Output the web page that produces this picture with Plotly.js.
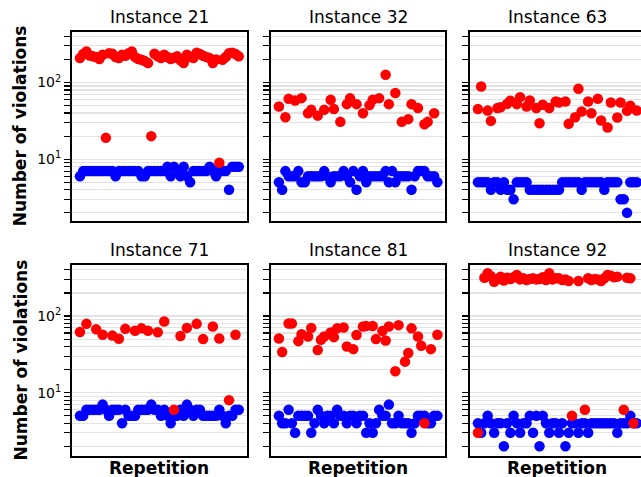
<!DOCTYPE html>
<html>
<head>
<meta charset="utf-8">
<script src="https://cdn.plot.ly/plotly-3.0.1.min.js"></script>
<style>
html,body{margin:0;padding:0;overflow:hidden;background:#fff;}
#chart{width:646px;height:477px;}
</style>
</head>
<body>
<div id="chart"></div>
<script>
// ---- data ----
const instances = ['Instance 21', 'Instance 32', 'Instance 63', 'Instance 71', 'Instance 81', 'Instance 92'];
const repetitions = [0,1,2,3,4,5,6,7,8,9,10,11,12,13,14,15,16,17,18,19,20,21,22,23,24,25,26,27,28,29,30,31,32,33,34,35,36,37,38,39,40,41,42,43,44,45,46,47,48,49];

const blue21 = [6,7,7,7,7,7,7,7,7,7,7,6,7,7,7,7,7,7,7,6,6,7,7,7,7,7,7,8,6,8,7,6,8,6,5,7,7,7,7,7,8,7,6,8,7,7,4,8,8,8];
const red21 = [208,235,254,225,219,215,202,230,19,240,237,215,208,230,223,240,254,215,202,198,190,179,20,237,220,208,230,215,202,210,219,195,179,230,215,208,245,235,223,215,208,179,200,9,198,215,240,245,235,219];

const blue32 = [5,4,7,6,6,6,7,5,5,6,6,6,6,6,7,6,5,6,6,6,7,6,5,7,4,6,7,5,6,6,6,6,6,7,5,7,5,6,6,6,6,4,6,7,7,7,6,6,6,5];
const red32 = [48.6,null,35.3,61.2,null,58.2,null,62.5,null,39.8,44,null,37,null,44,null,59.4,45,null,30.7,null,52.2,62.5,null,52.2,null,39.8,null,50.7,59.4,null,62.5,null,126,52.2,null,72.8,null,30.7,null,33.3,52.2,null,46.4,null,28.6,30.7,null,39.8,null];

const blue63 = [5,5,5,5,4,5,5,4,5,4,4,3,5,5,5,5,4,4,4,4,4,4,4,4,4,4,5,5,5,5,5,5,4,5,5,5,5,5,5,4,5,5,5,5,3,3,2,5,5,5];
const red63 = [45,88.7,null,43,31.6,null,46.4,47.7,null,52.7,57.7,null,52.2,64.4,null,48.6,58.2,null,46.4,29.5,51.2,null,46.4,null,56.5,54.8,null,56.5,28.9,null,35.3,82.8,41.8,null,56.5,39.8,null,61.2,31.9,null,25.9,54.8,null,34.9,54.8,null,42.7,49.7,null,43];

const blue71 = [5,5,6,6,6,6,6,7,6,5,6,6,6,4,6,5,5,5,6,6,6,6,7,6,6,5,6,5,4,5,5,6,5,7,6,5,6,6,5,5,5,5,5,6,5,4,5,5,6,6];
const red71 = [62,null,79,null,null,67,null,57,null,null,55.5,null,50.5,null,68,null,null,64.4,null,69,null,64.4,null,null,61.5,null,85,null,null,6,null,55,null,70,null,null,79,null,50,null,null,73,null,51,null,null,8,null,57,null];

const blue81 = [5,4,4,6,4,3,5,5,5,5,3,4,6,5,4,5,5,4,6,5,5,4,5,5,4,5,5,3,4,3,4,6,5,5,7,4,4,5,4,4,4,3,4,5,5,5,4,4,5,5];
const red81 = [51,34,null,80,80,null,47,58,null,54,70,null,36,49,54,null,61,53,69,null,71,40,null,37,56.5,null,73,74,null,74,50,null,64,48,73,null,19,76,null,25.4,33,69,null,54,41,4,null,37,null,57];

const blue92 = [4,3,4,5,4,3,4,4,2,4,3,5,4,3,4,4,5,3,5,2,5,4,3,4,4,3,4,2,3,4,4,3,4,4,3,4,4,4,4,4,4,4,4,3,4,4,4,5,4,4];
const red92 = [3,null,316,361,330,280,300,326,290,316,304,320,343,300,310,295,304,310,300,304,320,294,361,300,310,310,294,300,286,5,null,286,null,6,310,295,304,300,286,310,343,336,320,326,null,6,315,310,4,null];

const blueSeries = [blue21, blue32, blue63, blue71, blue81, blue92];
const redSeries = [red21, red32, red63, red71, red81, red92];

const yMajorVals = [10, 100];
const yMajorText = ['10<sup>1</sup>', '10<sup>2</sup>'];
const yMinorVals = [2,3,4,5,6,7,8,9,20,30,40,50,60,70,80,90,200,300,400];

// ---- layout geometry (pixels) ----
const W = 646, H = 477;
const colPx = [[72, 246.7], [271, 445.3], [470, 644.7]];
const rowPx = [[31.7, 221], [265, 456]];
const rowRange = [[0.195, 2.662], [0.175, 2.665]];
const FONT = 'DejaVu Sans';

const data = [];
const layout = {
  width: W, height: H,
  margin: {l: 0, r: 0, t: 0, b: 0},
  paper_bgcolor: '#fff', plot_bgcolor: '#fff',
  showlegend: false,
  font: {family: FONT, color: '#000'},
  annotations: []
};

for (let i = 0; i < 6; i++) {
  const r = Math.floor(i / 3), c = i % 3;
  const n = i + 1;
  const xs = n === 1 ? '' : String(n);
  const xd = [colPx[c][0] / W, colPx[c][1] / W];
  const yd = [1 - rowPx[r][1] / H, 1 - rowPx[r][0] / H];
  data.push({
    x: repetitions, y: blueSeries[i], type: 'scatter', mode: 'markers',
    marker: {color: '#0000ff', size: 10.5, line: {width: 0}},
    xaxis: 'x' + xs, yaxis: 'y' + xs, hoverinfo: 'skip'
  });
  data.push({
    x: repetitions, y: redSeries[i], type: 'scatter', mode: 'markers',
    marker: {color: '#ff0000', size: 10.5, line: {width: 0}},
    xaxis: 'x' + xs, yaxis: 'y' + xs, hoverinfo: 'skip'
  });
  layout['xaxis' + xs] = {
    domain: xd, range: [-2.45, 51.45], anchor: 'y' + xs,
    showgrid: false, zeroline: false, showticklabels: false, ticks: '',
    showline: true, mirror: true, linecolor: '#000', linewidth: 2
  };
  layout['yaxis' + xs] = {
    domain: yd, type: 'log', range: rowRange[r], anchor: 'x' + xs,
    tickmode: 'array', tickvals: yMajorVals, ticktext: yMajorText,
    ticks: 'outside', ticklen: 6, tickwidth: 1.2, tickcolor: '#000',
    showticklabels: c === 0, tickfont: {family: FONT, size: 14, color: '#000'},
    showgrid: true, gridcolor: '#e3e3e3', gridwidth: 1.2,
    minor: {
      tickmode: 'array', tickvals: yMinorVals,
      ticks: 'outside', ticklen: 6, tickwidth: 1.2, tickcolor: '#000',
      showgrid: true, gridcolor: '#e3e3e3', gridwidth: 1.2
    },
    zeroline: false,
    showline: true, mirror: true, linecolor: '#000', linewidth: 2
  };
  layout.annotations.push({
    text: instances[i], xref: 'paper', yref: 'paper',
    x: (xd[0] + xd[1]) / 2, y: yd[1], xanchor: 'center', yanchor: 'bottom',
    yshift: 3, showarrow: false, font: {family: FONT, size: 17, color: '#000'}
  });
  if (r === 1) {
    layout.annotations.push({
      text: '<b>Repetition</b>', xref: 'paper', yref: 'paper',
      x: (xd[0] + xd[1]) / 2, y: 1 - 468 / H, xanchor: 'center', yanchor: 'middle',
      showarrow: false, font: {family: FONT, size: 17, color: '#000'}
    });
  }
  if (c === 0) {
    layout.annotations.push({
      text: '<b>Number of violations</b>', xref: 'paper', yref: 'paper',
      x: 20 / W, y: (yd[0] + yd[1]) / 2, xanchor: 'center', yanchor: 'middle',
      textangle: -90, showarrow: false, font: {family: FONT, size: 17, color: '#000'}
    });
  }
}

Plotly.newPlot('chart', data, layout, {staticPlot: true, displayModeBar: false});
</script>
</body>
</html>
